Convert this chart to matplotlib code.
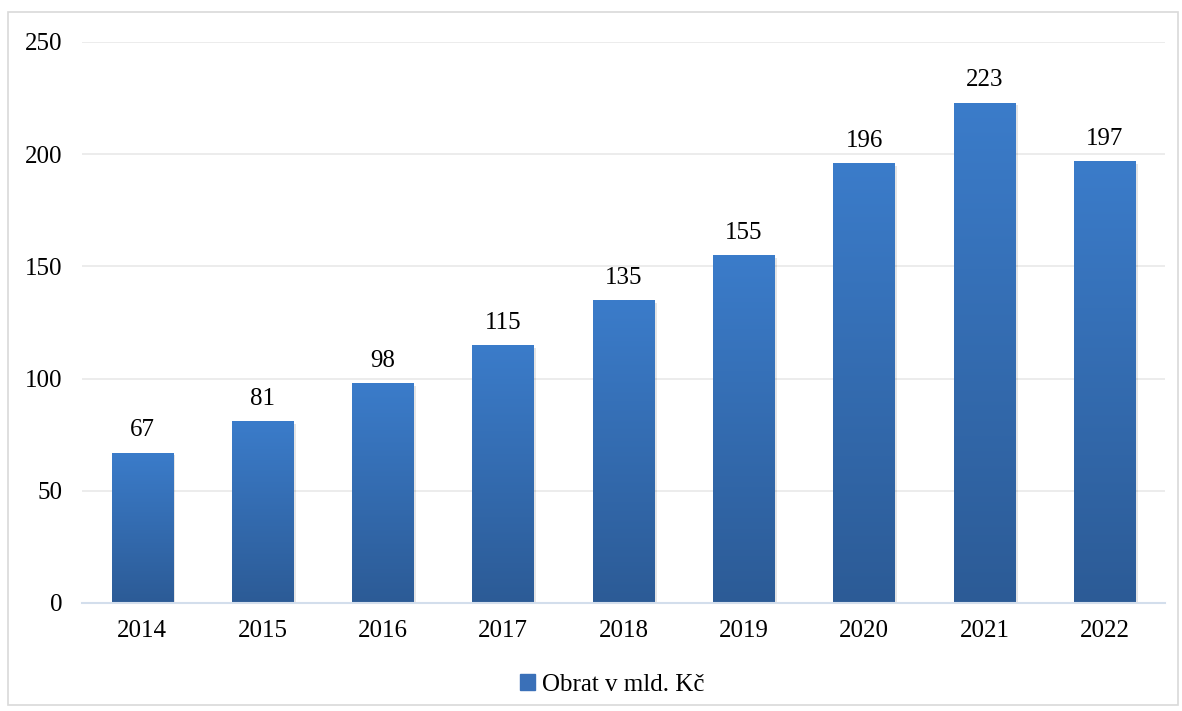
"""Bar chart of yearly turnover (Obrat v mld. Kč) with gradient-filled bars."""
import matplotlib.pyplot as plt
from matplotlib.colors import LinearSegmentedColormap
from matplotlib.patches import Rectangle
import numpy as np

YEARS = ['2014', '2015', '2016', '2017', '2018', '2019', '2020', '2021', '2022']
TURNOVER = [67, 81, 98, 115, 135, 155, 196, 223, 197]
Y_TICKS = [0, 50, 100, 150, 200, 250]
SERIES_LABEL = 'Obrat v mld. Kč'

TOP_COLOR = '#3B7CCA'
BOTTOM_COLOR = '#2C5B96'

plt.rcParams['font.family'] = ['Liberation Serif', 'DejaVu Serif']

fig = plt.figure(figsize=(11.82, 7.11), dpi=100)
# light frame around the whole chart
fig.patches.append(Rectangle((0.007, 0.008), 0.99, 0.975, transform=fig.transFigure,
                             fill=False, edgecolor='#D9D9D9', linewidth=1.2))
ax = fig.add_axes([0.0694, 0.152, 0.9162, 0.789])

x = np.arange(len(YEARS))
bars = ax.bar(x, TURNOVER, width=0.51, color=TOP_COLOR, zorder=3)

# vertical gradient inside each bar
cmap = LinearSegmentedColormap.from_list('bar_grad', [BOTTOM_COLOR, TOP_COLOR])
grad = np.linspace(0, 1, 256).reshape(-1, 1)
for b in bars:
    x0, w, h = b.get_x(), b.get_width(), b.get_height()
    # soft shadow on the right side
    ax.add_patch(Rectangle((x0 + 0.02, -1.2), w, h, color='#000000', alpha=0.10,
                           zorder=2, linewidth=0))
    im = ax.imshow(grad, cmap=cmap, origin='lower', aspect='auto',
                   extent=(x0, x0 + w, 0, h), zorder=4)
    im.set_clip_path(b)
    ax.text(b.get_x() + w / 2, h + 5, f'{h:.0f}', ha='center', va='bottom',
            fontsize=18, zorder=5)

ax.set_xlim(-0.5, len(YEARS) - 0.5)
ax.set_ylim(0, 250)
ax.set_xticks(x)
ax.set_xticklabels(YEARS, fontsize=18)
ax.set_yticks(Y_TICKS)
ax.set_yticklabels([str(v) for v in Y_TICKS], fontsize=18)
ax.tick_params(length=0, pad=12)
ax.tick_params(axis='y', pad=14)
ax.yaxis.grid(True, color='#EBEBEB', linewidth=1.3, zorder=0)
ax.set_axisbelow(True)
for side in ['top', 'right', 'left']:
    ax.spines[side].set_visible(False)
ax.spines['bottom'].set_color('#D3DEEC')
ax.spines['bottom'].set_linewidth(1.5)
ax.spines['bottom'].set_zorder(6)

handle = Rectangle((0, 0), 1, 1, color='#3A70B8')
fig.legend([handle], [SERIES_LABEL], loc='center', bbox_to_anchor=(0.518, 0.037),
           frameon=False, fontsize=18, handlelength=0.6, handleheight=0.6,
           handletextpad=0.3)

fig.savefig('out.png', dpi=100)
